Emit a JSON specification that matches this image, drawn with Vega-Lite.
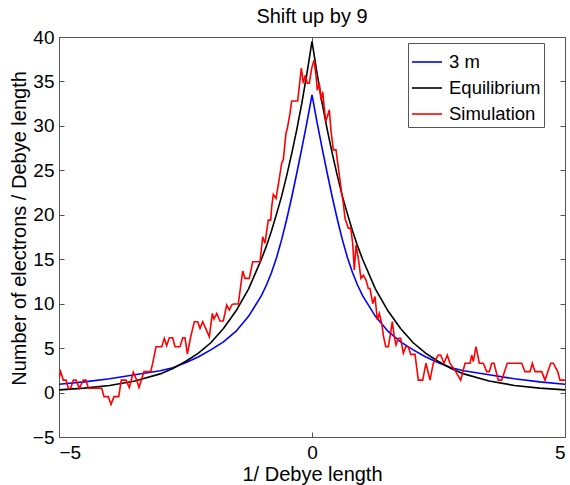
{
  "$schema": "https://vega.github.io/schema/vega-lite/v6.json",
  "width": 506,
  "height": 400,
  "autosize": {"type": "none"},
  "padding": {"left": 59, "top": 37, "right": 5, "bottom": 48},
  "background": "white",
  "title": {"text": "Shift up by 9", "font": "Liberation Sans", "fontSize": 20, "fontWeight": "normal", "color": "black", "baseline": "bottom", "offset": -19},
  "config": {
    "view": {"stroke": "#555", "strokeWidth": 1},
    "axis": {"labelFont": "Liberation Sans", "labelFontSize": 19, "labelColor": "black", "titleFont": "Liberation Sans", "titleFontSize": 20, "titleFontWeight": "normal", "titleColor": "black", "tickColor": "#555", "tickSize": -5, "domain": false, "grid": false},
    "legend": {"labelFont": "Liberation Sans", "labelFontSize": 18.5, "labelColor": "black"}
  },
  "datasets": {
    "lines": [
      {"x": -5, "y": 0.93, "s": "3 m"}, {"x": -4.5, "y": 1.2, "s": "3 m"}, {"x": -4, "y": 1.55, "s": "3 m"}, {"x": -3.5, "y": 2.0, "s": "3 m"}, {"x": -3, "y": 2.45, "s": "3 m"}, {"x": -2.75, "y": 2.8, "s": "3 m"}, {"x": -2.5, "y": 3.35, "s": "3 m"}, {"x": -2.25, "y": 4.0, "s": "3 m"}, {"x": -2, "y": 4.8, "s": "3 m"}, {"x": -1.75, "y": 5.7, "s": "3 m"}, {"x": -1.5, "y": 6.9, "s": "3 m"}, {"x": -1.25, "y": 8.6, "s": "3 m"}, {"x": -1, "y": 10.9, "s": "3 m"}, {"x": -0.9, "y": 12.1, "s": "3 m"}, {"x": -0.8, "y": 13.5, "s": "3 m"}, {"x": -0.7, "y": 15.2, "s": "3 m"}, {"x": -0.6, "y": 17.2, "s": "3 m"}, {"x": -0.5, "y": 19.5, "s": "3 m"}, {"x": -0.4, "y": 22.0, "s": "3 m"}, {"x": -0.3, "y": 24.7, "s": "3 m"}, {"x": -0.2, "y": 27.5, "s": "3 m"}, {"x": -0.1, "y": 30.4, "s": "3 m"}, {"x": 0, "y": 33.5, "s": "3 m"}, {"x": 0.1, "y": 30.4, "s": "3 m"}, {"x": 0.2, "y": 27.5, "s": "3 m"}, {"x": 0.3, "y": 24.7, "s": "3 m"}, {"x": 0.4, "y": 22.0, "s": "3 m"}, {"x": 0.5, "y": 19.5, "s": "3 m"}, {"x": 0.6, "y": 17.2, "s": "3 m"}, {"x": 0.7, "y": 15.2, "s": "3 m"}, {"x": 0.8, "y": 13.5, "s": "3 m"}, {"x": 0.9, "y": 12.1, "s": "3 m"}, {"x": 1, "y": 10.9, "s": "3 m"}, {"x": 1.25, "y": 8.6, "s": "3 m"}, {"x": 1.5, "y": 6.9, "s": "3 m"}, {"x": 1.75, "y": 5.7, "s": "3 m"}, {"x": 2, "y": 4.8, "s": "3 m"}, {"x": 2.25, "y": 4.0, "s": "3 m"}, {"x": 2.5, "y": 3.35, "s": "3 m"}, {"x": 2.75, "y": 2.8, "s": "3 m"}, {"x": 3, "y": 2.45, "s": "3 m"}, {"x": 3.5, "y": 2.0, "s": "3 m"}, {"x": 4, "y": 1.55, "s": "3 m"}, {"x": 4.5, "y": 1.2, "s": "3 m"}, {"x": 5, "y": 0.93, "s": "3 m"},
      {"x": -5, "y": 0.3, "s": "Equilibrium"}, {"x": -4.5, "y": 0.5, "s": "Equilibrium"}, {"x": -4, "y": 0.8, "s": "Equilibrium"}, {"x": -3.5, "y": 1.3, "s": "Equilibrium"}, {"x": -3, "y": 2.1, "s": "Equilibrium"}, {"x": -2.75, "y": 2.7, "s": "Equilibrium"}, {"x": -2.5, "y": 3.5, "s": "Equilibrium"}, {"x": -2.25, "y": 4.4, "s": "Equilibrium"}, {"x": -2, "y": 5.6, "s": "Equilibrium"}, {"x": -1.75, "y": 7.2, "s": "Equilibrium"}, {"x": -1.5, "y": 9.2, "s": "Equilibrium"}, {"x": -1.25, "y": 11.7, "s": "Equilibrium"}, {"x": -1, "y": 15.0, "s": "Equilibrium"}, {"x": -0.9, "y": 16.5, "s": "Equilibrium"}, {"x": -0.8, "y": 18.2, "s": "Equilibrium"}, {"x": -0.7, "y": 20.1, "s": "Equilibrium"}, {"x": -0.6, "y": 22.1, "s": "Equilibrium"}, {"x": -0.5, "y": 24.4, "s": "Equilibrium"}, {"x": -0.4, "y": 26.9, "s": "Equilibrium"}, {"x": -0.3, "y": 29.6, "s": "Equilibrium"}, {"x": -0.2, "y": 32.6, "s": "Equilibrium"}, {"x": -0.1, "y": 35.9, "s": "Equilibrium"}, {"x": 0, "y": 39.5, "s": "Equilibrium"}, {"x": 0.1, "y": 35.9, "s": "Equilibrium"}, {"x": 0.2, "y": 32.6, "s": "Equilibrium"}, {"x": 0.3, "y": 29.6, "s": "Equilibrium"}, {"x": 0.4, "y": 26.9, "s": "Equilibrium"}, {"x": 0.5, "y": 24.4, "s": "Equilibrium"}, {"x": 0.6, "y": 22.1, "s": "Equilibrium"}, {"x": 0.7, "y": 20.1, "s": "Equilibrium"}, {"x": 0.8, "y": 18.2, "s": "Equilibrium"}, {"x": 0.9, "y": 16.5, "s": "Equilibrium"}, {"x": 1, "y": 15.0, "s": "Equilibrium"}, {"x": 1.25, "y": 11.7, "s": "Equilibrium"}, {"x": 1.5, "y": 9.2, "s": "Equilibrium"}, {"x": 1.75, "y": 7.2, "s": "Equilibrium"}, {"x": 2, "y": 5.6, "s": "Equilibrium"}, {"x": 2.25, "y": 4.4, "s": "Equilibrium"}, {"x": 2.5, "y": 3.5, "s": "Equilibrium"}, {"x": 2.75, "y": 2.7, "s": "Equilibrium"}, {"x": 3, "y": 2.1, "s": "Equilibrium"}, {"x": 3.5, "y": 1.3, "s": "Equilibrium"}, {"x": 4, "y": 0.8, "s": "Equilibrium"}, {"x": 4.5, "y": 0.5, "s": "Equilibrium"}, {"x": 5, "y": 0.3, "s": "Equilibrium"},
      {"x": -5.0, "y": 1.6, "s": "Simulation"}, {"x": -4.967, "y": 2.35, "s": "Simulation"}, {"x": -4.915, "y": 1.4, "s": "Simulation"}, {"x": -4.862, "y": 1.4, "s": "Simulation"}, {"x": -4.816, "y": 0.48, "s": "Simulation"}, {"x": -4.769, "y": 0.48, "s": "Simulation"}, {"x": -4.717, "y": 1.4, "s": "Simulation"}, {"x": -4.664, "y": 1.4, "s": "Simulation"}, {"x": -4.599, "y": 0.48, "s": "Simulation"}, {"x": -4.52, "y": 1.4, "s": "Simulation"}, {"x": -4.466, "y": 1.4, "s": "Simulation"}, {"x": -4.421, "y": 0.48, "s": "Simulation"}, {"x": -4.156, "y": 0.48, "s": "Simulation"}, {"x": -4.111, "y": -0.46, "s": "Simulation"}, {"x": -4.026, "y": -0.46, "s": "Simulation"}, {"x": -3.972, "y": -1.33, "s": "Simulation"}, {"x": -3.913, "y": -0.46, "s": "Simulation"}, {"x": -3.82, "y": -0.46, "s": "Simulation"}, {"x": -3.769, "y": 1.4, "s": "Simulation"}, {"x": -3.676, "y": 1.4, "s": "Simulation"}, {"x": -3.611, "y": 0.57, "s": "Simulation"}, {"x": -3.532, "y": 2.28, "s": "Simulation"}, {"x": -3.464, "y": 1.4, "s": "Simulation"}, {"x": -3.419, "y": 0.57, "s": "Simulation"}, {"x": -3.32, "y": 2.35, "s": "Simulation"}, {"x": -3.188, "y": 2.35, "s": "Simulation"}, {"x": -3.148, "y": 3.3, "s": "Simulation"}, {"x": -3.083, "y": 5.16, "s": "Simulation"}, {"x": -2.97, "y": 5.16, "s": "Simulation"}, {"x": -2.919, "y": 6.1, "s": "Simulation"}, {"x": -2.872, "y": 5.27, "s": "Simulation"}, {"x": -2.82, "y": 6.17, "s": "Simulation"}, {"x": -2.753, "y": 6.17, "s": "Simulation"}, {"x": -2.708, "y": 5.16, "s": "Simulation"}, {"x": -2.609, "y": 5.16, "s": "Simulation"}, {"x": -2.555, "y": 6.17, "s": "Simulation"}, {"x": -2.51, "y": 6.17, "s": "Simulation"}, {"x": -2.464, "y": 4.34, "s": "Simulation"}, {"x": -2.397, "y": 6.28, "s": "Simulation"}, {"x": -2.326, "y": 7.97, "s": "Simulation"}, {"x": -2.259, "y": 7.97, "s": "Simulation"}, {"x": -2.213, "y": 7.22, "s": "Simulation"}, {"x": -2.16, "y": 7.97, "s": "Simulation"}, {"x": -2.101, "y": 7.22, "s": "Simulation"}, {"x": -2.03, "y": 6.28, "s": "Simulation"}, {"x": -1.97, "y": 8.9, "s": "Simulation"}, {"x": -1.937, "y": 8.27, "s": "Simulation"}, {"x": -1.883, "y": 8.9, "s": "Simulation"}, {"x": -1.818, "y": 8.05, "s": "Simulation"}, {"x": -1.753, "y": 8.05, "s": "Simulation"}, {"x": -1.686, "y": 9.85, "s": "Simulation"}, {"x": -1.634, "y": 9.29, "s": "Simulation"}, {"x": -1.587, "y": 9.85, "s": "Simulation"}, {"x": -1.555, "y": 9.96, "s": "Simulation"}, {"x": -1.457, "y": 9.96, "s": "Simulation"}, {"x": -1.37, "y": 13.67, "s": "Simulation"}, {"x": -1.324, "y": 12.85, "s": "Simulation"}, {"x": -1.239, "y": 12.85, "s": "Simulation"}, {"x": -1.172, "y": 14.72, "s": "Simulation"}, {"x": -1.028, "y": 14.72, "s": "Simulation"}, {"x": -0.974, "y": 17.53, "s": "Simulation"}, {"x": -0.929, "y": 16.79, "s": "Simulation"}, {"x": -0.864, "y": 19.4, "s": "Simulation"}, {"x": -0.816, "y": 19.4, "s": "Simulation"}, {"x": -0.796, "y": 20.9, "s": "Simulation"}, {"x": -0.765, "y": 22.3, "s": "Simulation"}, {"x": -0.711, "y": 21.85, "s": "Simulation"}, {"x": -0.646, "y": 24.1, "s": "Simulation"}, {"x": -0.599, "y": 25.8, "s": "Simulation"}, {"x": -0.567, "y": 26.2, "s": "Simulation"}, {"x": -0.514, "y": 29.2, "s": "Simulation"}, {"x": -0.488, "y": 29.7, "s": "Simulation"}, {"x": -0.435, "y": 31.4, "s": "Simulation"}, {"x": -0.401, "y": 32.8, "s": "Simulation"}, {"x": -0.283, "y": 32.8, "s": "Simulation"}, {"x": -0.237, "y": 35.16, "s": "Simulation"}, {"x": -0.211, "y": 36.5, "s": "Simulation"}, {"x": -0.172, "y": 34.8, "s": "Simulation"}, {"x": -0.132, "y": 35.7, "s": "Simulation"}, {"x": -0.093, "y": 34.8, "s": "Simulation"}, {"x": -0.053, "y": 34.8, "s": "Simulation"}, {"x": -0.006, "y": 36.5, "s": "Simulation"}, {"x": 0.04, "y": 37.4, "s": "Simulation"}, {"x": 0.079, "y": 35.7, "s": "Simulation"}, {"x": 0.105, "y": 34.0, "s": "Simulation"}, {"x": 0.144, "y": 34.8, "s": "Simulation"}, {"x": 0.178, "y": 32.9, "s": "Simulation"}, {"x": 0.211, "y": 33.85, "s": "Simulation"}, {"x": 0.237, "y": 32.35, "s": "Simulation"}, {"x": 0.271, "y": 30.5, "s": "Simulation"}, {"x": 0.31, "y": 31.2, "s": "Simulation"}, {"x": 0.342, "y": 31.8, "s": "Simulation"}, {"x": 0.375, "y": 29.5, "s": "Simulation"}, {"x": 0.421, "y": 27.3, "s": "Simulation"}, {"x": 0.474, "y": 27.3, "s": "Simulation"}, {"x": 0.508, "y": 25.8, "s": "Simulation"}, {"x": 0.553, "y": 23.9, "s": "Simulation"}, {"x": 0.587, "y": 22.4, "s": "Simulation"}, {"x": 0.619, "y": 21.3, "s": "Simulation"}, {"x": 0.652, "y": 19.6, "s": "Simulation"}, {"x": 0.717, "y": 18.5, "s": "Simulation"}, {"x": 0.765, "y": 18.5, "s": "Simulation"}, {"x": 0.804, "y": 16.8, "s": "Simulation"}, {"x": 0.836, "y": 13.8, "s": "Simulation"}, {"x": 0.87, "y": 16.6, "s": "Simulation"}, {"x": 0.915, "y": 15.1, "s": "Simulation"}, {"x": 0.968, "y": 12.85, "s": "Simulation"}, {"x": 1.014, "y": 13.2, "s": "Simulation"}, {"x": 1.067, "y": 12.66, "s": "Simulation"}, {"x": 1.113, "y": 11.7, "s": "Simulation"}, {"x": 1.146, "y": 11.7, "s": "Simulation"}, {"x": 1.2, "y": 10.0, "s": "Simulation"}, {"x": 1.245, "y": 10.8, "s": "Simulation"}, {"x": 1.291, "y": 8.16, "s": "Simulation"}, {"x": 1.33, "y": 8.9, "s": "Simulation"}, {"x": 1.377, "y": 7.8, "s": "Simulation"}, {"x": 1.409, "y": 6.47, "s": "Simulation"}, {"x": 1.457, "y": 5.16, "s": "Simulation"}, {"x": 1.508, "y": 5.16, "s": "Simulation"}, {"x": 1.542, "y": 6.28, "s": "Simulation"}, {"x": 1.587, "y": 7.97, "s": "Simulation"}, {"x": 1.626, "y": 6.28, "s": "Simulation"}, {"x": 1.66, "y": 5.35, "s": "Simulation"}, {"x": 1.706, "y": 6.1, "s": "Simulation"}, {"x": 1.753, "y": 6.1, "s": "Simulation"}, {"x": 1.804, "y": 4.42, "s": "Simulation"}, {"x": 1.852, "y": 5.16, "s": "Simulation"}, {"x": 1.903, "y": 5.16, "s": "Simulation"}, {"x": 1.951, "y": 4.3, "s": "Simulation"}, {"x": 2.036, "y": 4.3, "s": "Simulation"}, {"x": 2.101, "y": 1.4, "s": "Simulation"}, {"x": 2.188, "y": 1.4, "s": "Simulation"}, {"x": 2.253, "y": 3.3, "s": "Simulation"}, {"x": 2.332, "y": 1.4, "s": "Simulation"}, {"x": 2.397, "y": 3.3, "s": "Simulation"}, {"x": 2.496, "y": 4.22, "s": "Simulation"}, {"x": 2.543, "y": 4.22, "s": "Simulation"}, {"x": 2.609, "y": 3.3, "s": "Simulation"}, {"x": 2.674, "y": 4.22, "s": "Simulation"}, {"x": 2.727, "y": 3.3, "s": "Simulation"}, {"x": 2.84, "y": 2.35, "s": "Simulation"}, {"x": 2.939, "y": 1.4, "s": "Simulation"}, {"x": 3.024, "y": 3.3, "s": "Simulation"}, {"x": 3.123, "y": 3.3, "s": "Simulation"}, {"x": 3.156, "y": 4.22, "s": "Simulation"}, {"x": 3.188, "y": 3.5, "s": "Simulation"}, {"x": 3.241, "y": 5.16, "s": "Simulation"}, {"x": 3.306, "y": 3.3, "s": "Simulation"}, {"x": 3.385, "y": 3.3, "s": "Simulation"}, {"x": 3.453, "y": 2.35, "s": "Simulation"}, {"x": 3.504, "y": 2.35, "s": "Simulation"}, {"x": 3.551, "y": 3.3, "s": "Simulation"}, {"x": 3.597, "y": 3.3, "s": "Simulation"}, {"x": 3.682, "y": 1.4, "s": "Simulation"}, {"x": 3.749, "y": 1.4, "s": "Simulation"}, {"x": 3.86, "y": 3.3, "s": "Simulation"}, {"x": 4.144, "y": 3.3, "s": "Simulation"}, {"x": 4.209, "y": 2.35, "s": "Simulation"}, {"x": 4.308, "y": 2.35, "s": "Simulation"}, {"x": 4.354, "y": 3.3, "s": "Simulation"}, {"x": 4.407, "y": 2.35, "s": "Simulation"}, {"x": 4.54, "y": 2.35, "s": "Simulation"}, {"x": 4.605, "y": 1.4, "s": "Simulation"}, {"x": 4.717, "y": 3.3, "s": "Simulation"}, {"x": 4.769, "y": 3.3, "s": "Simulation"}, {"x": 4.856, "y": 2.35, "s": "Simulation"}, {"x": 4.901, "y": 1.4, "s": "Simulation"}, {"x": 5.0, "y": 1.4, "s": "Simulation"}
    ]
  },
  "data": {"name": "lines"},
  "resolve": {"axis": {"x": "independent", "y": "independent"}},
  "layer": [
    {
      "mark": {"type": "line", "strokeWidth": 1.6, "clip": true},
      "encoding": {
        "x": {"field": "x", "type": "quantitative", "scale": {"domain": [-5, 5], "nice": false, "zero": false},
              "axis": {"orient": "bottom", "values": [-5, 0, 5], "title": "1/ Debye length", "labelPadding": 11, "titlePadding": 2}},
        "y": {"field": "y", "type": "quantitative", "scale": {"domain": [-5, 40], "nice": false, "zero": false},
              "axis": {"orient": "left", "values": [-5, 0, 5, 10, 15, 20, 25, 30, 35, 40], "title": "Number of electrons / Debye length", "labelPadding": 10, "titlePadding": 3, "titleY": 191}},
        "color": {"field": "s", "type": "nominal",
                  "scale": {"domain": ["3 m", "Equilibrium", "Simulation"], "range": ["#0000ff", "#000000", "#ff0000"]},
                  "legend": {"title": null, "orient": "none", "legendX": 349, "legendY": 6, "symbolType": "stroke", "symbolSize": 900, "symbolStrokeWidth": 1.6, "labelOffset": 6, "padding": 3, "rowPadding": -8, "strokeColor": "#555", "fillColor": "white", "labelExpr": "datum.label + '  '"}}
      }
    },
    {
      "mark": {"type": "point", "opacity": 0},
      "encoding": {
        "x": {"field": "x", "type": "quantitative", "axis": {"orient": "top", "values": [-5, 0, 5], "labels": false, "title": null}},
        "y": {"field": "y", "type": "quantitative", "axis": {"orient": "right", "values": [-5, 0, 5, 10, 15, 20, 25, 30, 35, 40], "labels": false, "title": null}}
      }
    }
  ]
}
